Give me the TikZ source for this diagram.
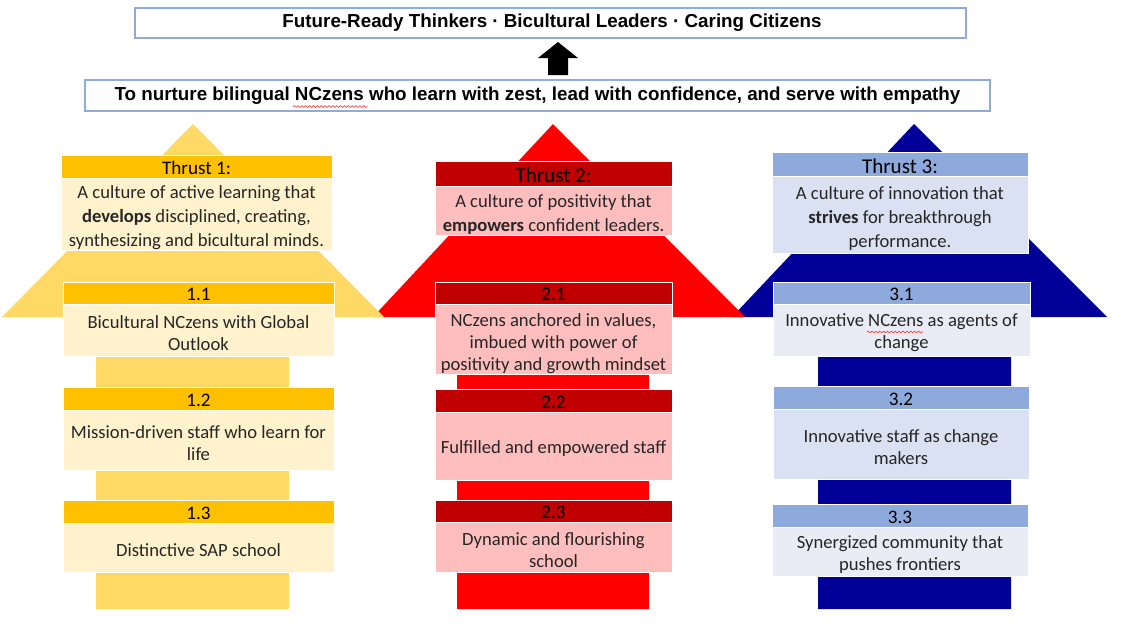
\documentclass[tikz,border=0pt]{standalone}
\usepackage{fontspec}
\setmainfont{Carlito}
\newfontfamily\titlefont{Liberation Sans}
\usetikzlibrary{decorations.pathmorphing}

\definecolor{yArrow}{HTML}{FFD966}
\definecolor{yHead}{HTML}{FFC000}
\definecolor{yBody}{HTML}{FFF2CC}
\definecolor{rArrow}{HTML}{FF0000}
\definecolor{rHead}{HTML}{C00000}
\definecolor{rBody}{HTML}{FFBEBE}
\definecolor{bArrow}{HTML}{000099}
\definecolor{bHead}{HTML}{8EA9DB}
\definecolor{bBody}{HTML}{D9E1F2}
\definecolor{bBodyL}{HTML}{E9EBF5}
\definecolor{frameblue}{HTML}{8FAADC}
\definecolor{ink}{HTML}{262626}

% filled cell with a centred text node: name, x1, y1, x2, y2, fill, node style, text
\newcommand\mycell[8]{%
  \fill[#6] (#2,#3) rectangle (#4,#5);
  \draw[cellrule] (#2,#3) rectangle (#4,#5);
  \node[#7] (#1) at ({(#2+#4)/2},{(#3+#5)/2}) {#8};}

\begin{document}
\begin{tikzpicture}[x=0.02cm,y=-0.02cm,
  cellrule/.style={draw=white, line width=0.5pt},
  txt/.style={text=ink, align=center, inner sep=0pt, yshift=-1.6pt, font=\fontsize{10.6}{12.5}\selectfont},
  num/.style={txt, text=black, yshift=0.6pt, font=\fontsize{10.9}{12}\selectfont},
  hdr/.style={txt, text=black, yshift=0.6pt, font=\fontsize{10.9}{12}\selectfont},
  hdrbig/.style={txt, text=black, yshift=0.6pt, font=\fontsize{12}{13}\selectfont},
  desc/.style={txt, yshift=-0.6pt, font=\fontsize{10.6}{13.8}\selectfont},
  banner/.style={draw=frameblue, line width=0.8pt, fill=white},
  bannertxt/.style={font=\titlefont\bfseries\fontsize{10.7}{12}\selectfont, text=black, inner sep=0pt},
  spell/.style={draw=red!80, line width=0.35pt, decorate,
    decoration={snake, segment length=2.2pt, amplitude=0.5pt}}]

\useasboundingbox[fill=white] (0,0) rectangle (1137,640);

% ---- vision and mission banners ----
\draw[banner] (135,8) rectangle (966,38);
\node[bannertxt] (vision) at (552,23) {Future-Ready Thinkers · Bicultural Leaders · Caring Citizens};
\draw[banner] (85,80) rectangle (990,111);
\node[bannertxt] (mission) at (537.5,96) {To nurture bilingual NCzens who learn with zest, lead with confidence, and serve with empathy};
\draw[spell] (293,106.5) -- (367,106.5);

% upward arrow between the banners
\fill[black] (558,42) -- (578,58) -- (568,58) -- (568,75) -- (548,75) -- (548,58) -- (538,58) -- cycle;

% ---- thrust 3 (blue) ----
\fill[bArrow] (914,124) -- (1107,317) -- (1011,317) -- (1011,609) -- (818,609) -- (818,317) -- (732,317) -- cycle;
\mycell{t3h}{772}{152}{1028}{176}{bHead}{hdrbig}{Thrust 3:}
\mycell{t3}{772}{176}{1028}{253}{bBody}{desc}{A culture of innovation that\\\textbf{strives} for breakthrough\\performance.}
\mycell{g31h}{773}{282}{1030}{304}{bHead}{num}{3.1}
\mycell{g31}{773}{304}{1030}{356}{bBodyL}{txt}{Innovative NCzens as agents of\\change}
\draw[spell] (867,332) -- (923,332);
\mycell{g32h}{773}{386}{1029}{409}{bHead}{num}{3.2}
\mycell{g32}{773}{409}{1029}{479}{bBody}{txt}{Innovative staff as change\\makers}
\mycell{g33h}{772}{504}{1028}{527}{bHead}{num}{3.3}
\mycell{g33}{772}{527}{1028}{576}{bBodyL}{txt}{Synergized community that\\pushes frontiers}

% ---- thrust 2 (red) ----
\fill[rArrow] (553,124) -- (745,317) -- (649,317) -- (649,609) -- (457,609) -- (457,317) -- (373,317) -- cycle;
\mycell{t2h}{435}{161}{672}{186}{rHead}{hdrbig}{Thrust 2:}
\mycell{t2}{435}{186}{672}{235}{rBody}{desc}{A culture of positivity that\\\textbf{empowers} confident leaders.}
\mycell{g21h}{435}{282}{672}{304}{rHead}{num}{2.1}
\mycell{g21}{435}{304}{672}{374}{rBody}{txt,yshift=-1.2pt}{NCzens anchored in values,\\imbued with power of\\positivity and growth mindset}
\mycell{g22h}{435}{389}{672}{412}{rHead}{num}{2.2}
\mycell{g22}{435}{412}{672}{480}{rBody}{txt}{Fulfilled and empowered staff}
\mycell{g23h}{435}{500}{672}{522}{rHead}{num}{2.3}
\mycell{g23}{435}{522}{672}{572}{rBody}{txt}{Dynamic and flourishing\\school}

% ---- thrust 1 (yellow) ----
\fill[yArrow] (193,124) -- (384,317) -- (289,317) -- (289,609) -- (96,609) -- (96,317) -- (2,317) -- cycle;
\mycell{t1h}{61}{155}{332}{178}{yHead}{hdr}{Thrust 1:}
\mycell{t1}{61}{178}{332}{250}{yBody}{desc}{A culture of active learning that\\\textbf{develops} disciplined, creating,\\synthesizing and bicultural minds.}
\mycell{g11h}{63}{282}{334}{304}{yHead}{num}{1.1}
\mycell{g11}{63}{304}{334}{356}{yBody}{txt}{Bicultural NCzens with Global\\Outlook}
\mycell{g12h}{63}{387}{334}{410}{yHead}{num}{1.2}
\mycell{g12}{63}{410}{334}{470}{yBody}{txt}{Mission-driven staff who learn for\\life}
\mycell{g13h}{63}{500}{334}{523}{yHead}{num}{1.3}
\mycell{g13}{63}{523}{334}{572}{yBody}{txt}{Distinctive SAP school}
\end{tikzpicture}
\end{document}
